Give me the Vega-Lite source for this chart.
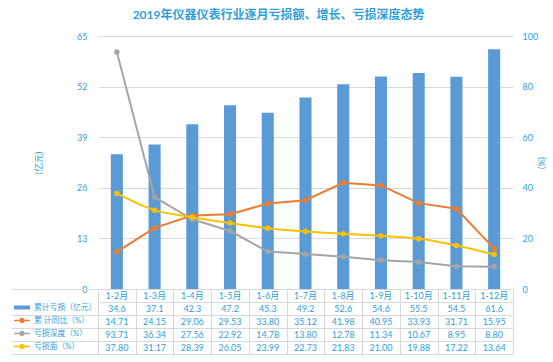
{
  "$schema": "https://vega.github.io/schema/vega-lite/v6.json",
  "padding": {"left": 10, "top": 9, "right": 5, "bottom": 0},
  "background": "white",
  "config": {
    "font": "Lato, 'Noto Sans CJK SC'",
    "view": {"stroke": null}
  },
  "title": {
    "text": "2019年仪器仪表行业逐月亏损额、增长、亏损深度态势",
    "fontSize": 12,
    "fontWeight": "bold",
    "color": "#2F9FDB",
    "anchor": "middle",
    "offset": 10
  },
  "datasets": {
    "monthly": [
      {"cat": "1-2月", "loss": 34.6, "yoy": 14.71, "depth": 93.71, "area": 37.80},
      {"cat": "1-3月", "loss": 37.1, "yoy": 24.15, "depth": 36.34, "area": 31.17},
      {"cat": "1-4月", "loss": 42.3, "yoy": 29.06, "depth": 27.56, "area": 28.39},
      {"cat": "1-5月", "loss": 47.2, "yoy": 29.53, "depth": 22.92, "area": 26.05},
      {"cat": "1-6月", "loss": 45.3, "yoy": 33.80, "depth": 14.78, "area": 23.99},
      {"cat": "1-7月", "loss": 49.2, "yoy": 35.12, "depth": 13.80, "area": 22.73},
      {"cat": "1-8月", "loss": 52.6, "yoy": 41.98, "depth": 12.78, "area": 21.83},
      {"cat": "1-9月", "loss": 54.6, "yoy": 40.95, "depth": 11.34, "area": 21.00},
      {"cat": "1-10月", "loss": 55.5, "yoy": 33.93, "depth": 10.67, "area": 19.88},
      {"cat": "1-11月", "loss": 54.5, "yoy": 31.71, "depth": 8.95, "area": 17.22},
      {"cat": "1-12月", "loss": 61.6, "yoy": 15.95, "depth": 8.80, "area": 13.64}
    ],
    "series": [
      {"name": "累计亏损（亿元）"},
      {"name": "累 计同比（%）"},
      {"name": "亏损深度（%）"},
      {"name": "亏损面（%）"}
    ]
  },
  "bounds": "flush",
  "spacing": 0,
  "resolve": {"scale": {"color": "independent", "shape": "independent"}, "legend": {"color": "independent", "shape": "independent"}},
  "vconcat": [
    {
      "width": 415,
      "height": 253,
      "data": {"name": "monthly"},
      "encoding": {
        "x": {"field": "cat", "type": "nominal", "sort": null, "scale": {"paddingInner": 0, "paddingOuter": 0}, "axis": null}
      },
      "layer": [
        {
          "mark": {"type": "bar", "color": "#5B9BD5", "width": {"band": 0.32}},
          "encoding": {
            "y": {
              "field": "loss", "type": "quantitative",
              "scale": {"domain": [0, 65], "nice": false},
              "axis": {
                "values": [0, 13, 26, 39, 52, 65], "title": "(亿元)",
                "titleColor": "#2F9FDB", "titleFontSize": 9, "titleFontWeight": "normal", "titlePadding": 33,
                "labelColor": "#2F9FDB", "labelFontSize": 9, "labelPadding": 11,
                "domain": false, "ticks": false, "tickSize": 0,
                "grid": true, "gridColor": "#D9D9D9"
              }
            }
          }
        },
        {
          "encoding": {
            "y": {
              "field": "yoy", "type": "quantitative",
              "scale": {"domain": [0, 100], "nice": false},
              "axis": {
                "orient": "right", "values": [0, 20, 40, 60, 80, 100], "title": "(%)",
                "titleColor": "#2F9FDB", "titleFontSize": 9, "titleFontWeight": "normal", "titlePadding": 9, "titleAngle": -90,
                "labelColor": "#2F9FDB", "labelFontSize": 9, "labelPadding": 9,
                "domain": false, "ticks": false, "tickSize": 0, "grid": false
              }
            }
          },
          "layer": [
            {
              "mark": {"type": "line", "color": "#ED7D31", "strokeWidth": 2, "point": {"filled": true, "size": 30, "color": "#ED7D31"}},
              "encoding": {"y": {"field": "yoy", "type": "quantitative", "title": "(%)"}}
            },
            {
              "mark": {"type": "line", "color": "#A5A5A5", "strokeWidth": 2, "point": {"filled": true, "size": 30, "color": "#A5A5A5"}},
              "encoding": {"y": {"field": "depth", "type": "quantitative", "title": "(%)"}}
            },
            {
              "mark": {"type": "line", "color": "#FFC000", "strokeWidth": 2, "interpolate": "monotone", "point": {"filled": true, "size": 30, "color": "#FFC000"}},
              "encoding": {"y": {"field": "area", "type": "quantitative", "title": "(%)"}}
            }
          ]
        }
      ],
      "resolve": {"scale": {"y": "independent"}}
    },
    {
      "width": 415,
      "height": 65,
      "layer": [
        {
          "data": {"name": "monthly"},
          "mark": {"type": "text", "fontSize": 9, "color": "#2F9FDB"},
          "encoding": {
            "x": {
              "field": "cat", "type": "nominal", "sort": null,
              "scale": {"paddingInner": 0, "paddingOuter": 0},
              "axis": {"title": null, "labels": false, "ticks": false, "domain": false, "grid": true, "tickBand": "extent", "gridColor": "#D9D9D9", "orient": "bottom"}
            },
            "y": {
              "datum": "hdr", "type": "nominal",
              "scale": {"domain": ["hdr", "loss", "yoy", "depth", "area"], "paddingInner": 0, "paddingOuter": 0},
              "axis": {
                "title": null, "labels": false, "domain": false, "grid": true, "tickBand": "extent",
                "gridColor": "#D9D9D9", "ticks": true, "tickSize": 87, "tickColor": "#D9D9D9",
                "tickOpacity": {"condition": {"test": "datum.value === 'hdr'", "value": 0}, "value": 1}
              }
            },
            "text": {"field": "cat"}
          }
        },
        {
          "data": {"name": "monthly"},
          "mark": {"type": "text", "fontSize": 9, "color": "#2F9FDB"},
          "encoding": {
            "x": {"field": "cat", "type": "nominal", "sort": null},
            "y": {"datum": "loss", "type": "nominal"},
            "text": {"field": "loss", "format": ".1f"}
          }
        },
        {
          "data": {"name": "monthly"},
          "transform": [{"fold": ["yoy", "depth", "area"], "as": ["series", "value"]}],
          "mark": {"type": "text", "fontSize": 9, "color": "#2F9FDB"},
          "encoding": {
            "x": {"field": "cat", "type": "nominal", "sort": null},
            "y": {"field": "series", "type": "nominal"},
            "text": {"field": "value", "format": ".2f"}
          }
        },
        {
          "data": {"name": "series"},
          "mark": {"type": "point", "filled": true, "opacity": 0},
          "encoding": {
            "color": {
              "field": "name", "type": "nominal",
              "scale": {"domain": ["累计亏损（亿元）", "累 计同比（%）", "亏损深度（%）", "亏损面（%）"], "range": ["#5B9BD5", "#ED7D31", "#A5A5A5", "#FFC000"]},
              "legend": {
                "title": null, "orient": "none", "legendX": -85, "legendY": 12, "direction": "vertical",
                "labelFontSize": 7.8, "labelColor": "#2F9FDB", "symbolSize": 256, "clipHeight": 13,
                "rowPadding": 0, "symbolOpacity": 1, "labelOffset": 3, "padding": 0, "labelLimit": 70
              }
            },
            "shape": {
              "field": "name", "type": "nominal",
              "scale": {
                "domain": ["累计亏损（亿元）", "累 计同比（%）", "亏损深度（%）", "亏损面（%）"],
                "range": [
                  "M-1,-0.26H1V0.26H-1Z",
                  "M-1,-0.09H1V0.09H-1Z M-0.33,0A0.33,0.33 0 1,1 0.33,0A0.33,0.33 0 1,1 -0.33,0Z",
                  "M-1,-0.09H1V0.09H-1Z M-0.33,0A0.33,0.33 0 1,1 0.33,0A0.33,0.33 0 1,1 -0.33,0Z",
                  "M-1,-0.09H1V0.09H-1Z M-0.33,0A0.33,0.33 0 1,1 0.33,0A0.33,0.33 0 1,1 -0.33,0Z"
                ]
              },
              "legend": {
                "title": null, "orient": "none", "legendX": -85, "legendY": 12, "direction": "vertical",
                "labelFontSize": 7.8, "labelColor": "#2F9FDB", "symbolSize": 256, "clipHeight": 13,
                "rowPadding": 0, "symbolOpacity": 1, "labelOffset": 3, "padding": 0, "labelLimit": 70
              }
            }
          }
        }
      ]
    }
  ]
}
